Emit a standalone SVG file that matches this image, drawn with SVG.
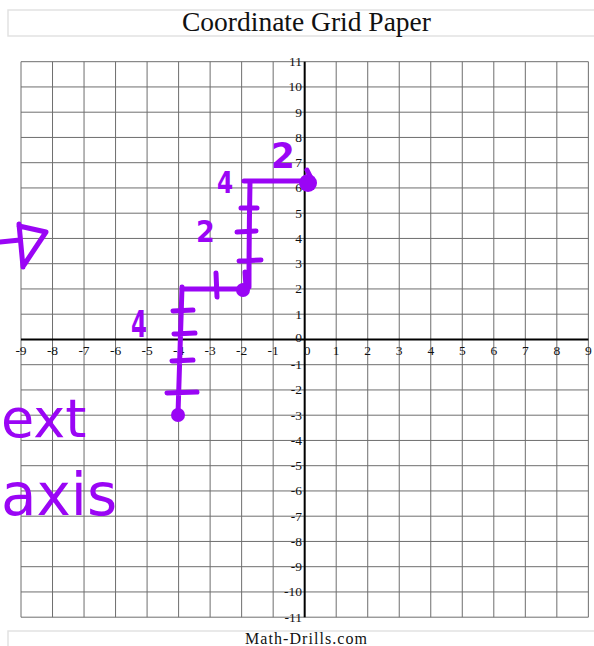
<svg xmlns="http://www.w3.org/2000/svg" width="594" height="646" viewBox="0 0 594 646">
<style>
.g{stroke:#6e6e6e;stroke-width:1;fill:none}
.ax{stroke:#000;stroke-width:2;fill:none}
.lb{font-family:"Liberation Serif","Times New Roman",serif;font-size:13.5px;fill:#111}
.yl{text-anchor:end}
.xl{text-anchor:middle}
.ink{stroke:#9a05f5;stroke-width:5;fill:none;stroke-linecap:round;stroke-linejoin:round}
.dot{fill:#9a05f5}
.hw{font-family:"DejaVu Sans",sans-serif;fill:#9a05f5}
.hn{font-family:"DejaVu Sans",sans-serif;font-weight:bold;fill:#9a05f5}
</style>
<rect width="594" height="646" fill="#fff"/>
<g id="title">
<rect x="8" y="10" width="600" height="26" fill="none" stroke="#e2e2e2" stroke-width="1.5"/>
<text x="306.5" y="31" text-anchor="middle" font-family="Liberation Serif, Times New Roman, serif" font-size="27.5" fill="#111">Coordinate Grid Paper</text>
</g>
<g id="grid">
<path class="g" d="M21,61.7V617.2M52.52,61.7V617.2M84.04,61.7V617.2M115.56,61.7V617.2M147.08,61.7V617.2M178.6,61.7V617.2M210.12,61.7V617.2M241.64,61.7V617.2M273.16,61.7V617.2M336.2,61.7V617.2M367.72,61.7V617.2M399.24,61.7V617.2M430.76,61.7V617.2M462.28,61.7V617.2M493.8,61.7V617.2M525.32,61.7V617.2M556.84,61.7V617.2M588.36,61.7V617.2"/>
<path class="g" d="M21,61.7H588.36M21,86.95H588.36M21,112.2H588.36M21,137.45H588.36M21,162.7H588.36M21,187.95H588.36M21,213.2H588.36M21,238.45H588.36M21,263.7H588.36M21,288.95H588.36M21,314.2H588.36M21,364.7H588.36M21,389.95H588.36M21,415.2H588.36M21,440.45H588.36M21,465.7H588.36M21,490.95H588.36M21,516.2H588.36M21,541.45H588.36M21,566.7H588.36M21,591.95H588.36M21,617.2H588.36"/>
</g>
<g id="axes">
<path class="ax" d="M21,339.45H588.36M304.68,61.7V617.2"/>
</g>
<g id="y-labels" class="lb yl">
<text x="302" y="66">11</text>
<text x="302" y="91.2">10</text>
<text x="302" y="116.5">9</text>
<text x="302" y="141.7">8</text>
<text x="302" y="167">7</text>
<text x="302" y="192.2">6</text>
<text x="302" y="217.5">5</text>
<text x="302" y="242.7">4</text>
<text x="302" y="268">3</text>
<text x="302" y="293.2">2</text>
<text x="302" y="318.5">1</text>
<text x="302" y="342">0</text>
<text x="302" y="369">-1</text>
<text x="302" y="394.2">-2</text>
<text x="302" y="419.5">-3</text>
<text x="302" y="444.7">-4</text>
<text x="302" y="470">-5</text>
<text x="302" y="495.2">-6</text>
<text x="302" y="520.5">-7</text>
<text x="302" y="545.7">-8</text>
<text x="302" y="571">-9</text>
<text x="302" y="596.2">-10</text>
<text x="302" y="621.5">-11</text>
</g>
<g id="x-labels" class="lb xl">
<text x="21" y="354.5">-9</text>
<text x="52.5" y="354.5">-8</text>
<text x="84" y="354.5">-7</text>
<text x="115.6" y="354.5">-6</text>
<text x="147.1" y="354.5">-5</text>
<text x="178.6" y="354.5">-4</text>
<text x="210.1" y="354.5">-3</text>
<text x="241.6" y="354.5">-2</text>
<text x="273.2" y="354.5">-1</text>
<text x="307" y="354.5">0</text>
<text x="336.2" y="354.5">1</text>
<text x="367.7" y="354.5">2</text>
<text x="399.2" y="354.5">3</text>
<text x="430.8" y="354.5">4</text>
<text x="462.3" y="354.5">5</text>
<text x="493.8" y="354.5">6</text>
<text x="525.3" y="354.5">7</text>
<text x="556.8" y="354.5">8</text>
<text x="588.4" y="354.5">9</text>
</g>
<g id="connectors">
<path class="ink" d="M244,181H308M250,182Q249,235 249,287M307,170L311,178M241,208H257M237,232L256,231M239,261L261,260M245,272L246,287"/>
<path class="ink" d="M182,289H243M216,273L217,297M182,287Q180,350 178,414M173,311L193,310M174,334L195,333M172,361L193,360M167,393L197,392"/>
<path class="ink" d="M0,242L20,240M19,224L23,267M19,226L46,232L24,265"/>
</g>
<g id="points">
<circle class="dot" cx="308" cy="183" r="9"/>
<circle class="dot" cx="243" cy="290" r="7"/>
<circle class="dot" cx="178" cy="415" r="7"/>
</g>
<g id="annotations">
<text class="hn" transform="translate(131,337) scale(0.62,1)" font-size="37">4</text>
<text class="hn" transform="translate(217,193) scale(0.75,1)" font-size="31">4</text>
<text class="hn" transform="translate(196,242) scale(0.9,1)" font-size="30">2</text>
<text class="hn" transform="translate(271,168) scale(0.95,1)" font-size="36">2</text>
<text class="hw" x="1" y="437" font-size="54">ext</text>
<text class="hw" x="1" y="515" font-size="58">axis</text>
</g>
<g id="footer">
<path d="M8,646V631H594" fill="none" stroke="#e2e2e2" stroke-width="1.5"/>
<text x="306" y="644" text-anchor="middle" font-family="Liberation Serif, Times New Roman, serif" font-size="16" textLength="122" fill="#111">Math-Drills.com</text>
</g>
</svg>
